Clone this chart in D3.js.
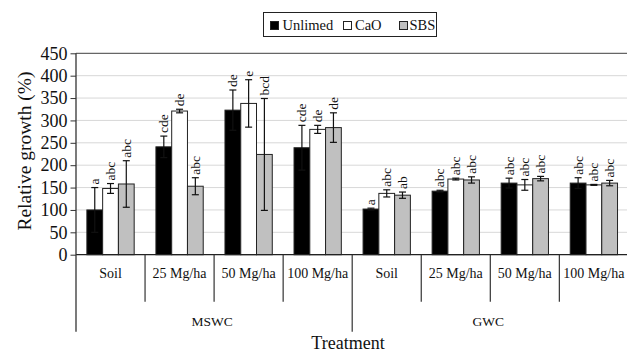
<!DOCTYPE html>
<html>
<head>
<meta charset="utf-8">
<script src="https://cdn.jsdelivr.net/npm/d3@7"></script>
<style>
	body { margin: 0; background: #fff; }
	svg text { font-family: "Liberation Serif", "DejaVu Serif", serif !important; }
</style>
</head>
<body>
<div id="chart-area"></div>
<script>

// Data
let groups = ["MSWC", "GWC"];
let doses = ["Soil", "25 Mg/ha", "50 Mg/ha", "100 Mg/ha"];
let series = ["Unlimed", "CaO", "SBS"];
let colors = ["#000000", "#ffffff", "#c0c0c0"];

// values per series, in order MSWC soil..100, GWC soil..100
let unlimed = [100, 241, 323, 239, 102, 142, 160, 160];
let cao     = [148, 321, 338, 280, 137, 169, 156, 156];
let sbs     = [158, 153, 224, 284, 133, 167, 170, 160];

let unlimedErr = [50, 24, 45, 50, 2, 2, 11, 12];
let caoErr     = [11, 4, 53, 9, 8, 2, 12, 1];
let sbsErr     = [52, 19, 125, 33, 7, 7, 5, 6];

let unlimedLab = ["a", "cde", "de", "cde", "a", "abc", "abc", "abc"];
let caoLab     = ["abc", "de", "e", "de", "abc", "abc", "abc", "abc"];
let sbsLab     = ["abc", "abc", "bcd", "de", "ab", "abc", "abc", "abc"];

let yTicks = [0, 50, 100, 150, 200, 250, 300, 350, 400, 450];

/////////////////////////
// SVG drawing area
/////////////////////////

let W = 627, H = 352;
let plotLeft = 76, plotRight = 628.4, plotTop = 53.3, plotBottom = 254.7;
let serif = "'Liberation Serif', 'DejaVu Serif', serif";

let svg = d3.select("#chart-area").append("svg")
	.attr("width", W)
	.attr("height", H)
	.attr("font-family", serif);

let keys = [];
groups.forEach(g => doses.forEach(d => keys.push(g + "|" + d)));

let rows = keys.map((k, i) => ({
	key: k,
	dose: k.split("|")[1],
	vals: [
		{s: 0, v: unlimed[i], e: unlimedErr[i], lab: unlimedLab[i]},
		{s: 1, v: cao[i], e: caoErr[i], lab: caoLab[i]},
		{s: 2, v: sbs[i], e: sbsErr[i], lab: sbsLab[i]}
	]
}));

let x0 = d3.scaleBand()
	.domain(keys)
	.range([plotLeft, plotRight])
	.padding(0);

let x1 = d3.scaleBand()
	.domain([0, 1, 2])
	.range([0, x0.bandwidth()])
	.paddingInner(0)
	.paddingOuter(0.69);

let y = d3.scaleLinear()
	.domain([0, 450])
	.range([plotBottom, plotTop]);

// Gridlines
svg.append("g")
	.selectAll("line")
	.data(yTicks.filter(t => t > 0 && t < 450))
	.enter().append("line")
	.attr("x1", plotLeft).attr("x2", W)
	.attr("y1", d => y(d)).attr("y2", d => y(d))
	.attr("stroke", "#d8d8d8")
	.attr("stroke-width", 1);

// top border
svg.append("line")
	.attr("x1", plotLeft).attr("x2", W)
	.attr("y1", y(450)).attr("y2", y(450))
	.attr("stroke", "#666")
	.attr("stroke-width", 1.2);

// Y axis
let yAxis = d3.axisLeft(y)
	.tickValues(yTicks)
	.tickSize(5.5)
	.tickPadding(3);

let yAxisGroup = svg.append("g")
	.attr("transform", "translate(" + plotLeft + ",0)")
	.call(yAxis)
	.attr("font-family", serif)
	.attr("font-size", 18);
yAxisGroup.select(".domain").remove();
yAxisGroup.selectAll("line").attr("stroke", "#333");
yAxisGroup.selectAll("text")
	.attr("fill", "#111");

// Bars
let barG = svg.append("g")
	.selectAll("g")
	.data(rows)
	.enter().append("g")
	.attr("transform", d => "translate(" + x0(d.key) + ",0)");

barG.selectAll("rect")
	.data(d => d.vals)
	.enter().append("rect")
	.attr("x", d => x1(d.s))
	.attr("y", d => y(d.v))
	.attr("width", x1.bandwidth())
	.attr("height", d => y(0) - y(d.v))
	.attr("fill", d => colors[d.s])
	.attr("stroke", "#222")
	.attr("stroke-width", 1);

// Error bars
let capW = 3.5;
let errG = barG.selectAll(".err")
	.data(d => d.vals)
	.enter().append("g")
	.attr("class", "err")
	.attr("transform", d => "translate(" + (x1(d.s) + x1.bandwidth() / 2) + ",0)");

errG.append("line")
	.attr("x1", 0).attr("x2", 0)
	.attr("y1", d => y(d.v - d.e)).attr("y2", d => y(d.v + d.e))
	.attr("stroke", "#111").attr("stroke-width", 1.2);
errG.append("line")
	.attr("x1", -capW).attr("x2", capW)
	.attr("y1", d => y(d.v + d.e)).attr("y2", d => y(d.v + d.e))
	.attr("stroke", "#111").attr("stroke-width", 1.2);
errG.append("line")
	.attr("x1", -capW).attr("x2", capW)
	.attr("y1", d => y(d.v - d.e)).attr("y2", d => y(d.v - d.e))
	.attr("stroke", "#111").attr("stroke-width", 1.2);

// Letter labels
errG.append("text")
	.attr("transform", d => "translate(0," + (y(d.v + d.e) - 3) + ") rotate(-90)")
	.attr("dy", "0.33em")
	.attr("text-anchor", "start")
	.attr("font-size", 13.5)
	.attr("fill", "#111")
	.text(d => d.lab);

// Zero line
svg.append("line")
	.attr("x1", plotLeft).attr("x2", W)
	.attr("y1", y(0)).attr("y2", y(0))
	.attr("stroke", "#222")
	.attr("stroke-width", 1.3);

// Category separators and labels
let sepY1 = 301.7, sepY2 = 331.7;
let seps = keys.slice(1).map((k, i) => ({x: x0(k), big: (i + 1) % doses.length === 0}));
svg.append("g")
	.selectAll("line")
	.data(seps)
	.enter().append("line")
	.attr("x1", d => d.x).attr("x2", d => d.x)
	.attr("y1", y(0))
	.attr("y2", d => d.big ? sepY2 : sepY1)
	.attr("stroke", "#333")
	.attr("stroke-width", 1.2);

// left axis line, extending into the category area
svg.append("line")
	.attr("x1", plotLeft).attr("x2", plotLeft)
	.attr("y1", y(450)).attr("y2", sepY2)
	.attr("stroke", "#333")
	.attr("stroke-width", 1.3);

svg.append("g")
	.selectAll("text")
	.data(rows)
	.enter().append("text")
	.attr("x", d => x0(d.key) + x0.bandwidth() / 2)
	.attr("y", 278)
	.attr("text-anchor", "middle")
	.attr("font-size", 14)
	.attr("fill", "#111")
	.text(d => d.dose);

svg.append("g")
	.selectAll("text")
	.data(groups)
	.enter().append("text")
	.attr("x", g => (x0(g + "|" + doses[0]) + x0(g + "|" + doses[doses.length - 1]) + x0.bandwidth()) / 2 - 2)
	.attr("y", 325.5)
	.attr("text-anchor", "middle")
	.attr("font-size", 13.5)
	.attr("fill", "#111")
	.text(g => g);

// Axis titles
svg.append("text")
	.attr("x", 348)
	.attr("y", 349)
	.attr("text-anchor", "middle")
	.attr("font-size", 18)
	.attr("fill", "#111")
	.text("Treatment");

svg.append("text")
	.attr("transform", "translate(31,151) rotate(-90)")
	.attr("text-anchor", "middle")
	.attr("font-size", 19.5)
	.attr("fill", "#111")
	.text("Relative growth (%)");

// Legend
let legend = svg.append("g");
legend.append("rect")
	.attr("x", 263.5).attr("y", 12.5)
	.attr("width", 173).attr("height", 24)
	.attr("fill", "#fff")
	.attr("stroke", "#222")
	.attr("stroke-width", 1);

let legSq = [270.5, 343.5, 399.5];
let legTx = [282.5, 355, 409.5];
series.forEach((s, i) => {
	legend.append("rect")
		.attr("x", legSq[i]).attr("y", 21.5)
		.attr("width", 8).attr("height", 8)
		.attr("fill", colors[i])
		.attr("stroke", "#222")
		.attr("stroke-width", 1);
	legend.append("text")
		.attr("x", legTx[i])
		.attr("y", 30)
		.attr("font-size", 14.5)
		.attr("fill", "#111")
		.text(s);
});

</script>
</body>
</html>
